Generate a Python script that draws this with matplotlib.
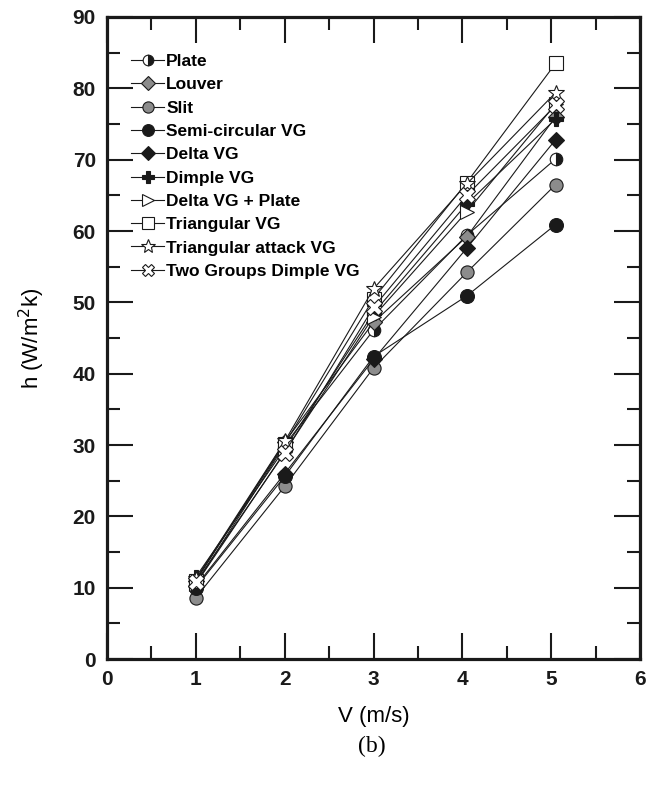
import matplotlib
matplotlib.use('Agg')
import matplotlib.pyplot as plt

# velocities (m/s) and heat transfer coefficients h (W/m2k)
v = [1.0, 2.0, 3.0, 4.05, 5.05]

plate = [10.5, 30.0, 46.1, 59.4, 70.1]
louver = [11.0, 30.4, 47.2, 59.2, 76.0]
slit = [8.6, 24.2, 40.8, 54.2, 66.5]
semi_circular = [10.0, 25.6, 42.4, 50.9, 60.9]
delta_vg = [10.2, 26.0, 42.0, 57.6, 72.8]
dimple_vg = [11.5, 29.5, 48.5, 63.8, 75.7]
delta_plate = [10.5, 29.0, 48.0, 62.7, 77.8]
triangular = [11.0, 30.2, 50.5, 66.8, 83.5]
triangular_attack = [11.2, 30.5, 51.9, 66.6, 79.4]
two_groups = [10.8, 28.9, 49.3, 65.0, 77.6]

labels = ['Plate', 'Louver', 'Slit', 'Semi-circular VG', 'Delta VG', 'Dimple VG',
          'Delta VG + Plate', 'Triangular VG', 'Triangular attack VG', 'Two Groups Dimple VG']
series = [plate, louver, slit, semi_circular, delta_vg, dimple_vg,
          delta_plate, triangular, triangular_attack, two_groups]

gray = '#8c8c8c'
styles = [
    dict(marker='o', markerfacecolor='#1a1a1a', fillstyle='right', markerfacecoloralt='white', markersize=9),
    dict(marker='D', markerfacecolor=gray, markersize=8),
    dict(marker='o', markerfacecolor=gray, markersize=9.5),
    dict(marker='o', markerfacecolor='#1a1a1a', markersize=10),
    dict(marker='D', markerfacecolor='#1a1a1a', markersize=8),
    dict(marker='P', markerfacecolor='#1a1a1a', markersize=10),
    dict(marker='>', markerfacecolor='white', markersize=10),
    dict(marker='s', markerfacecolor='white', markersize=9.5),
    dict(marker='*', markerfacecolor='white', markersize=12),
    dict(marker='X', markerfacecolor='white', markersize=11),
]

fig = plt.figure(figsize=(6.62, 7.87), dpi=100)
ax = fig.add_axes([0.1616, 0.1626, 0.8052, 0.8158])

for y, lab, st in zip(series, labels, styles):
    ax.plot(v, y, color='#1a1a1a', linewidth=0.8, markeredgecolor='#1a1a1a',
            markeredgewidth=0.8, label=lab, **st)

ax.set_xlim(0, 6)
ax.set_ylim(0, 90)
ax.set_xticks(range(0, 7))
ax.set_yticks(range(0, 100, 10))
ax.set_xticks([0.5 + i for i in range(6)], minor=True)
ax.set_yticks([5 + 10 * i for i in range(9)], minor=True)
ax.tick_params(which='both', direction='in', top=True, right=True, width=1.5, color='#1a1a1a')
ax.tick_params(which='major', length=19, pad=8)
ax.tick_params(which='minor', length=9.5)
for sp in ax.spines.values():
    sp.set_linewidth(2.3)
    sp.set_color('#1a1a1a')

for t in ax.get_xticklabels() + ax.get_yticklabels():
    t.set_fontfamily(['Liberation Sans', 'DejaVu Sans'])
    t.set_fontweight('bold')
    t.set_fontsize(15)
    t.set_color('#1a1a1a')

ax.set_ylabel('h (W/m$^2$k)', fontsize=16, family='Liberation Sans', labelpad=18)
ax.set_xlabel('V (m/s)', fontsize=16, family='Liberation Sans', labelpad=12)
fig.text(0.562, 0.051, '(b)', fontsize=17, family='Liberation Serif', ha='center', va='center')

leg = ax.legend(loc='upper left', bbox_to_anchor=(0.046, 0.9425), frameon=False,
                handlelength=1.9, handletextpad=0.1, labelspacing=0.47, borderpad=0,
                borderaxespad=0, markerscale=0.85,
                prop=dict(family=['Liberation Sans Narrow', 'Liberation Sans'], weight='bold', size=12.5))

fig.savefig('out.png', dpi=100)
